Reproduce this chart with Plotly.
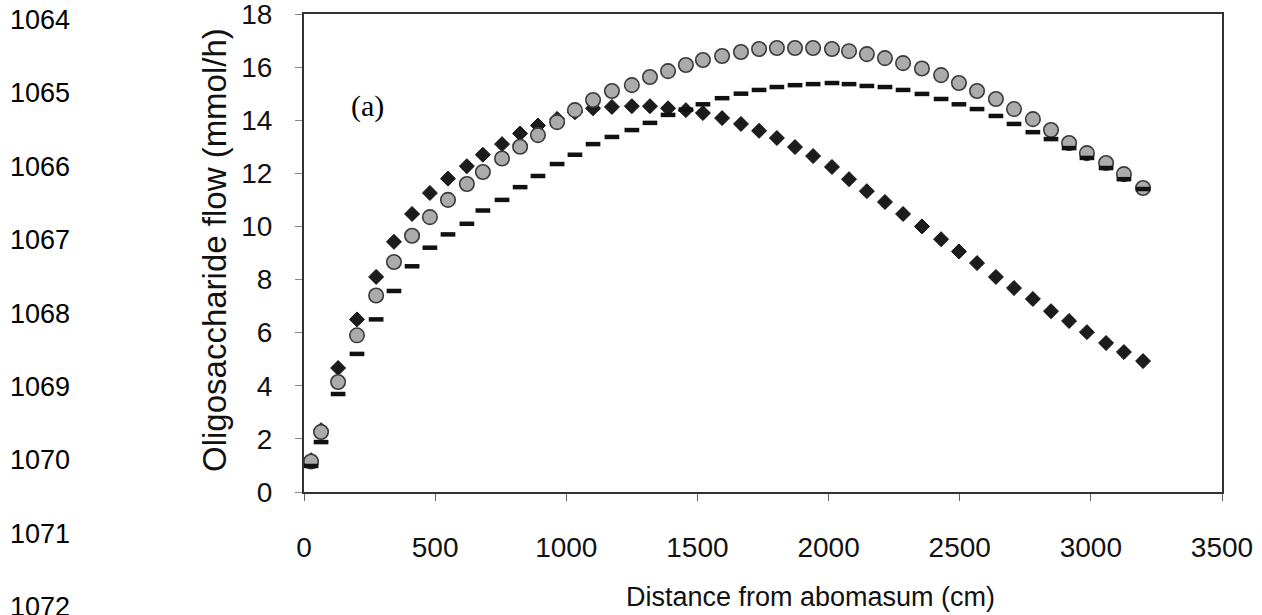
import plotly.graph_objects as go

# Distance from abomasum (cm)
distance = [27, 65, 130, 202, 275, 343, 412, 480, 549, 621, 682, 755, 824, 892, 965,
            1033, 1102, 1174, 1250, 1319, 1388, 1456, 1521, 1594, 1666, 1735, 1803, 1872,
            1941, 2013, 2078, 2146, 2215, 2284, 2356, 2429, 2497, 2566, 2638, 2707, 2779,
            2848, 2917, 2985, 3058, 3126, 3199]

# Series 1: black diamonds
diamonds = [1.2, 2.33, 4.67, 6.5, 8.1, 9.42, 10.47, 11.26, 11.8, 12.27, 12.7, 13.1, 13.5,
            13.8, 14.05, 14.3, 14.45, 14.5, 14.53, 14.53, 14.45, 14.38, 14.27, 14.08, 13.86,
            13.6, 13.33, 12.99, 12.65, 12.24, 11.78, 11.33, 10.92, 10.47, 10.0, 9.52, 9.06,
            8.62, 8.1, 7.68, 7.27, 6.81, 6.44, 6.02, 5.61, 5.27, 4.93]

# Series 2: grey circles
circles = [1.15, 2.26, 4.14, 5.9, 7.4, 8.66, 9.65, 10.35, 11.0, 11.6, 12.05, 12.56, 13.0,
           13.44, 13.93, 14.38, 14.76, 15.1, 15.32, 15.63, 15.85, 16.08, 16.27, 16.42, 16.57,
           16.68, 16.72, 16.72, 16.72, 16.68, 16.6, 16.49, 16.34, 16.15, 15.95, 15.7, 15.4,
           15.1, 14.8, 14.42, 14.04, 13.63, 13.14, 12.76, 12.39, 11.97, 11.45]

# Series 3: black dashes
dashes = [0.98, 1.88, 3.69, 5.2, 6.5, 7.57, 8.5, 9.2, 9.7, 10.1, 10.6, 11.0, 11.48, 11.9,
          12.35, 12.7, 13.1, 13.37, 13.63, 13.9, 14.2, 14.4, 14.6, 14.83, 15.0, 15.14, 15.25,
          15.32, 15.36, 15.4, 15.36, 15.29, 15.25, 15.14, 14.99, 14.8, 14.6, 14.42, 14.16,
          13.86, 13.55, 13.29, 12.95, 12.58, 12.2, 11.78, 11.41]

x_ticks = [0, 500, 1000, 1500, 2000, 2500, 3000, 3500]
y_ticks = [0, 2, 4, 6, 8, 10, 12, 14, 16, 18]
line_numbers = ["1064", "1065", "1066", "1067", "1068", "1069", "1070", "1071", "1072"]

W, H = 1262, 615
L, R, T, B = 304, 40, 14, 123
pw, ph = W - L - R, H - T - B

fig = go.Figure()
fig.add_trace(go.Scatter(
    x=distance, y=diamonds, mode="markers", name="diamonds",
    marker=dict(symbol="diamond", size=11.5, color="#1c1c1c",
                line=dict(color="#111111", width=1))))
fig.add_trace(go.Scatter(
    x=distance, y=circles, mode="markers", name="circles",
    marker=dict(symbol="circle", size=14.5, color="#ababab",
                line=dict(color="#3a3a3a", width=1.6))))
fig.add_trace(go.Scatter(
    x=distance, y=dashes, mode="markers", name="dashes",
    marker=dict(symbol="line-ew", size=10.5, color="#111111",
                line=dict(color="#111111", width=4.5))))

font_fam = "Arial, Liberation Sans, sans-serif"

fig.update_layout(
    width=W, height=H,
    margin=dict(l=L, r=R, t=T, b=B, pad=0, autoexpand=False),
    paper_bgcolor="white", plot_bgcolor="white",
    showlegend=False,
    font=dict(family=font_fam, color="#111111"),
    xaxis=dict(range=[0, 3500], tickvals=x_ticks, ticktext=[str(v) for v in x_ticks],
               showgrid=False, zeroline=False, showline=True, mirror=True,
               linecolor="#333333", linewidth=2, ticks="outside", ticklen=7,
               tickcolor="#666666", tickwidth=1, ticklabelstandoff=22,
               ticklabeloverflow="allow", automargin=False,
               tickfont=dict(size=28, family=font_fam, color="#111111")),
    yaxis=dict(range=[0, 18], tickvals=y_ticks, ticktext=[str(v) for v in y_ticks],
               showgrid=False, zeroline=False, showline=True, mirror=True,
               linecolor="#333333", linewidth=2, ticks="outside", ticklen=7,
               tickcolor="#888888", tickwidth=1, ticklabelstandoff=17,
               ticklabeloverflow="allow", automargin=False,
               tickfont=dict(size=28, family=font_fam, color="#111111")),
)

annotations = []
# axis titles
annotations.append(dict(text="Distance from abomasum (cm)", xref="paper", yref="paper",
                        x=(810 - L) / pw, y=-(597 - (T + ph)) / ph, showarrow=False,
                        xanchor="center", yanchor="middle",
                        font=dict(size=27, family=font_fam, color="#111111")))
annotations.append(dict(text="Oligosaccharide flow (mmol/h)", xref="paper", yref="paper",
                        x=(215 - L) / pw, y=(T + ph - 250) / ph, showarrow=False,
                        textangle=-90, xanchor="center", yanchor="middle",
                        font=dict(size=33, family=font_fam, color="#111111")))
# panel label
annotations.append(dict(text="(a)", xref="paper", yref="paper",
                        x=(367 - L) / pw, y=(T + ph - 106) / ph, showarrow=False,
                        xanchor="center", yanchor="middle",
                        font=dict(size=30, family="Times New Roman, Liberation Serif, serif",
                                  color="#000000")))
# manuscript line numbers
for i, lab in enumerate(line_numbers):
    py = 20 + 73.4 * i
    annotations.append(dict(text=lab, xref="paper", yref="paper",
                            x=(8 - L) / pw, y=(T + ph - py) / ph, showarrow=False,
                            xanchor="left", yanchor="middle",
                            font=dict(size=27, family=font_fam, color="#000000")))
fig.update_layout(annotations=annotations)

fig.write_html("out.html")
